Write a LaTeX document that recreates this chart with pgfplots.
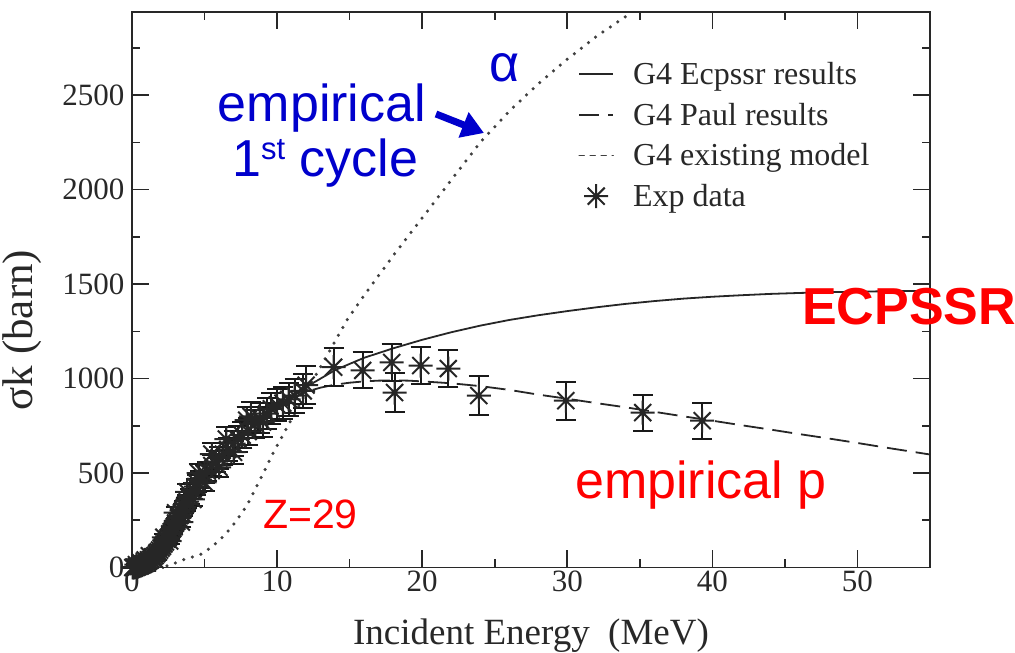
\documentclass[border=0pt]{standalone}
\usepackage{pgfplots}
\pgfplotsset{compat=1.18}
\usepackage{pgfplotstable}
\usepackage{fontspec}
\setmainfont{Liberation Serif}
\newfontfamily\arial{Liberation Sans}
\usetikzlibrary{arrows.meta}

\definecolor{annblue}{RGB}{0,0,204}
\definecolor{annred}{RGB}{255,0,0}
\definecolor{ink}{RGB}{40,40,40}

% eight-armed asterisk, like the grace symbol
\pgfdeclareplotmark{ast8}{%
  \pgfpathmoveto{\pgfqpoint{0pt}{\pgfplotmarksize}}%
  \pgfpathlineto{\pgfqpoint{0pt}{-\pgfplotmarksize}}%
  \pgfpathmoveto{\pgfqpoint{\pgfplotmarksize}{0pt}}%
  \pgfpathlineto{\pgfqpoint{-\pgfplotmarksize}{0pt}}%
  \pgfpathmoveto{\pgfqpoint{.7071\pgfplotmarksize}{.7071\pgfplotmarksize}}%
  \pgfpathlineto{\pgfqpoint{-.7071\pgfplotmarksize}{-.7071\pgfplotmarksize}}%
  \pgfpathmoveto{\pgfqpoint{-.7071\pgfplotmarksize}{.7071\pgfplotmarksize}}%
  \pgfpathlineto{\pgfqpoint{.7071\pgfplotmarksize}{-.7071\pgfplotmarksize}}%
  \pgfusepathqstroke}

\pgfplotsset{
  leg line/.style={legend image code/.code={\draw[##1] (0pt,0pt) -- (34pt,0pt);}},
  leg dots/.style={legend image code/.code={\draw[black!75, line width=1.5pt, dash pattern=on 5pt off 6pt] (0pt,0pt) -- (34pt,0pt);}},
  leg mark/.style={legend image code/.code={\draw[##1] plot coordinates {(17pt,0pt)};}},
}

\pgfplotstableread{
E    s     e
0.05 0     1
0.1  1     1
0.15 1     1
0.2  2     1
0.3  3     1
0.3  15    2
0.4  5     1
0.5  7     1
0.6  10    2
0.6  25    3
0.7  13    2
0.8  17    2
0.9  21    2
0.9  40    4
1.0  26    3
1.1  31    3
1.2  37    4
1.2  62    6
1.3  43    4
1.4  50    5
1.5  57    6
1.6  64    6
1.6  40    4
1.7  73    7
1.8  82    8
1.9  92    9
2.0  103   10
2.1  112   11
2.2  125   12
2.2  160   15
2.3  135   13
2.4  150   15
2.5  160   16
2.6  178   18
2.6  140   14
2.7  190   19
2.8  205   20
2.9  215   22
3.0  235   23
3.0  290   28
3.1  245   25
3.2  262   26
3.3  275   28
3.4  290   29
3.4  240   24
3.5  305   30
3.6  320   32
3.7  335   34
3.8  348   35
3.8  400   40
4.0  375   38
4.2  405   40
4.2  360   36
4.4  428   43
4.5  445   44
4.6  500   50
4.7  465   46
5.0  495   50
5.0  450   45
5.2  510   51
5.5  540   54
5.5  600   60
5.8  560   56
6.0  580   58
6.0  530   53
6.3  600   60
6.5  680   65
6.6  625   62
7.0  655   65
7.0  610   60
7.3  680   68
7.6  700   70
7.9  780   70
8.0  720   72
8.2  800   75
8.5  760   76
8.8  790   79
9.0  770   77
9.3  815   80
9.6  840   82
10.0 860   85
10.4 870   85
10.8 890   88
11.2 910   90
11.8 935   90
12.0 965   100
13.9 1060  100
15.9 1043  95
17.9 1085  100
18.1 926   105
19.9 1069  100
21.8 1053  100
23.9 910   105
29.9 883   100
35.2 820   95
39.3 777   95
}\expdata

\begin{document}
\begin{tikzpicture}[x=1pt,y=1pt]
\useasboundingbox (0,0) rectangle (1015,653);
\begin{axis}[
  at={(132pt,85.5pt)}, anchor=south west,
  scale only axis, width=798pt, height=555.5pt,
  xmin=0, xmax=55, ymin=0, ymax=2940,
  xtick={0,10,...,50}, ytick={0,500,...,2500},
  minor xtick={5,15,...,55}, minor ytick={250,750,...,2750},
  tick align=inside,
  major tick length=17pt, minor tick length=8pt,
  axis line style={line width=1.6pt, ink},
  every tick/.style={line width=1.6pt, ink},
  ticklabel style={font=\fontsize{31}{31}\selectfont, text=ink},
  yticklabel style={xshift=-4pt},
  /pgf/number format/assume math mode=true,
  /pgf/number format/1000 sep={},
  xlabel={Incident Energy\enspace(MeV)},
  ylabel={σk (barn)},
  xlabel style={at={(axis description cs:0.5,-0.1395)}, anchor=base,
    font=\fontsize{37}{37}\selectfont, text=ink},
  ylabel style={at={(axis description cs:-0.1378,0.4275)}, anchor=center,
    font=\fontsize{43}{43}\selectfont, text=ink},
  legend style={at={(axis description cs:0.559,0.9136)}, anchor=north west,
    draw=none, fill=none, font=\fontsize{32}{38}\selectfont, text=ink,
    row sep=13pt, inner sep=0pt,
    /tikz/every odd column/.style={column sep=17pt}},
  legend cell align=left,
  clip=false,
]
\addplot[leg line, black!85, line width=1.8pt] coordinates {
 (0,0) (0.5,6) (1,24) (1.5,52) (2,95) (2.5,155) (3,225) (3.5,300) (4,370)
 (4.5,435) (5,490) (6,580) (7,655) (8,725) (9,790) (10,850) (11,905)
 (12,955) (13,1000) (14,1045) (16,1110) (18,1160) (20,1205) (22,1245)
 (24,1280) (26,1310) (28,1335) (30,1357) (32,1377) (34,1395) (36,1410)
 (38,1423) (40,1433) (42,1441) (44,1448) (46,1453) (48,1457) (50,1460)
 (52,1462) (55,1464)
};
\addlegendentry{G4 Ecpssr results}
\addplot[leg line, black!85, line width=1.8pt, dash pattern=on 20pt off 9pt] coordinates {
 (0,0) (0.5,6) (1,24) (1.5,52) (2,95) (2.5,155) (3,225) (3.5,300) (4,370)
 (4.5,435) (5,490) (6,580) (7,655) (8,725) (9,790) (10,850) (11,895)
 (12,930) (13,952) (14,968) (15,978) (16,985) (17,989) (18,990) (19,989)
 (20,985) (22,975) (24,960) (26,940) (28,915) (30,893) (32,870) (34,848)
 (36,824) (38,800) (40,777) (42,753) (44,730) (46,706) (48,683) (50,659)
 (52,634) (55,598)
};
\addlegendentry{G4 Paul results}
\addplot[leg dots, black!75, line width=3.5pt, line cap=round, dash pattern=on 0pt off 9pt] coordinates {
 (1.8,0) (2.2,4) (2.6,12) (3.0,24) (3.4,38) (4.0,52) (4.5,62) (4.9,75)
 (5.5,110) (6.0,142) (6.5,181) (7.0,228) (7.5,280) (8.0,340) (8.4,400)
 (9.1,507) (9.8,618) (10.5,715) (11.5,855) (12.5,995) (13.5,1130)
 (14.2,1225) (14.9,1320) (16,1440) (18,1650) (20,1850) (22,2050)
 (24,2250) (26,2415) (28,2560) (30,2690) (32,2810) (34,2915) (34.5,2940)
};
\addlegendentry{G4 existing model}
\addplot[leg mark, only marks, mark=ast8, mark size=12pt,
  mark options={line width=2pt, black!85},
  error bars/.cd, y dir=both, y explicit,
  error bar style={line width=2pt, black!90},
  error mark options={rotate=90, mark size=10pt, line width=2pt, black!90}]
  table[x=E, y=s, y error=e] {\expdata};
\addlegendentry{Exp data}
\end{axis}

% annotations
\node[annblue, anchor=base, font=\arial\fontsize{52}{52}\selectfont] at (322,531) {empirical};
\node[annblue, anchor=base west, inner sep=0pt, font=\arial\fontsize{52}{52}\selectfont] at (232,476)
  {1\raisebox{17pt}{\fontsize{31}{31}\selectfont st} cycle};
\node[annblue, anchor=base, font=\arial\fontsize{52}{52}\selectfont] at (505,571) {α};
\draw[annblue, line width=7pt, -{Triangle[length=22pt,width=26pt]}] (436,539) -- (484,520);
\node[annred, anchor=base west, inner sep=0pt, font=\arial\bfseries\fontsize{52}{52}\selectfont] at (802,328) {ECPSSR};
\node[annred, anchor=base west, inner sep=0pt, font=\arial\fontsize{52}{52}\selectfont] at (575,154) {empirical p};
\node[annred, anchor=base west, inner sep=0pt, font=\arial\fontsize{41}{41}\selectfont] at (263,124) {Z=29};
\end{tikzpicture}
\end{document}
